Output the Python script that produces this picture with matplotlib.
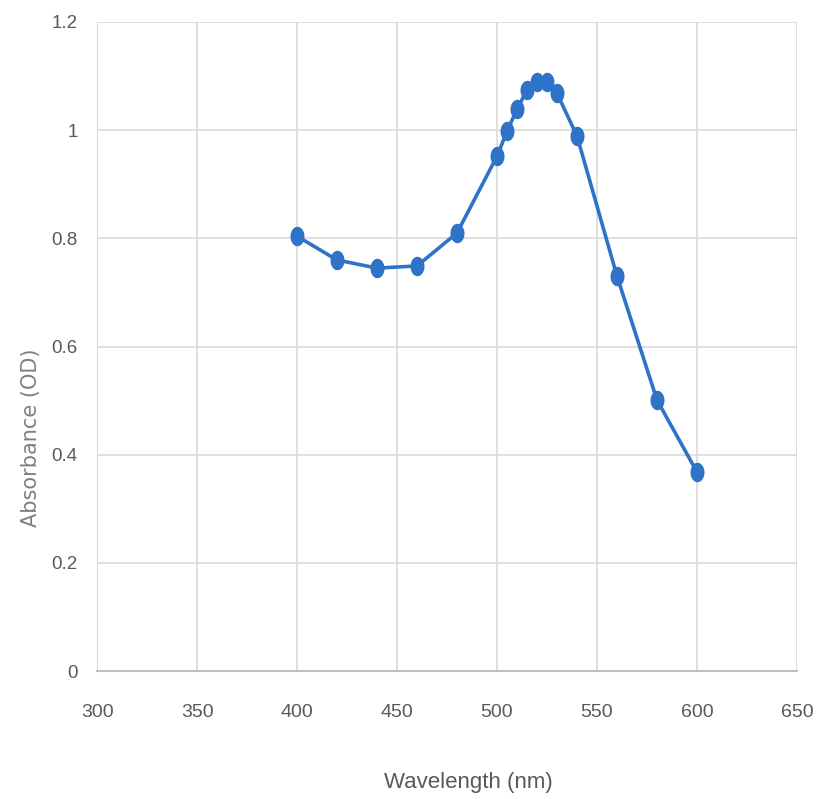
import matplotlib
matplotlib.use("Agg")
import matplotlib.pyplot as plt
from matplotlib.path import Path
import numpy as np

# absorbance spectrum values
wavelength = [400, 420, 440, 460, 480, 500, 505, 510, 515, 520, 525, 530, 540, 560, 580, 600]
absorbance = [0.804, 0.760, 0.745, 0.749, 0.810, 0.952, 0.998, 1.039, 1.074, 1.089, 1.089,
              1.068, 0.989, 0.730, 0.501, 0.368]

x_ticks = [300, 350, 400, 450, 500, 550, 600, 650]
y_ticks = [0, 0.2, 0.4, 0.6, 0.8, 1.0, 1.2]
y_tick_labels = ["0", "0.2", "0.4", "0.6", "0.8", "1", "1.2"]

LINE_COLOR = "#2F73C9"
TEXT_COLOR = "#595959"
TICK_FONT = "Liberation Sans"

# tall ellipse marker (the reference image is squeezed sideways)
t = np.linspace(0, 2 * np.pi, 40)
ellipse = Path(np.column_stack([0.72 * np.cos(t), np.sin(t)]), closed=True)

fig = plt.figure(figsize=(8.38, 7.99), dpi=100)
ax = fig.add_axes([0.1158, 0.160, 0.8353, 0.8125])

ax.plot(wavelength, absorbance, color=LINE_COLOR, lw=2.6,
        marker=ellipse, markersize=14, markeredgewidth=0, zorder=3)

ax.set_xlim(300, 650)
ax.set_ylim(0, 1.2)
ax.set_xticks(x_ticks)
ax.set_yticks(y_ticks)
ax.set_xticklabels([str(t) for t in x_ticks], family=TICK_FONT, fontsize=14, color=TEXT_COLOR)
ax.set_yticklabels(y_tick_labels, family=TICK_FONT, fontsize=13.5, color=TEXT_COLOR)
ax.tick_params(length=0)
ax.tick_params(axis="x", pad=24)
ax.tick_params(axis="y", pad=14)

ax.grid(True, color="#D9D9D9", lw=1.2)
ax.set_axisbelow(True)
for side in ["top", "right"]:
    ax.spines[side].set_visible(False)
ax.spines["left"].set_color("#D9D9D9")
ax.spines["bottom"].set_color("#BFBFBF")
ax.spines["bottom"].set_linewidth(1.5)

ax.set_xlabel("Wavelength (nm)", family=TICK_FONT, fontsize=16, color=TEXT_COLOR)
ax.xaxis.set_label_coords(0.53, -0.155)
ax.set_ylabel("Absorbance (OD)", fontsize=15, color="#808080")
ax.yaxis.set_label_coords(-0.08, 0.36)

fig.savefig("out.png", dpi=100)
